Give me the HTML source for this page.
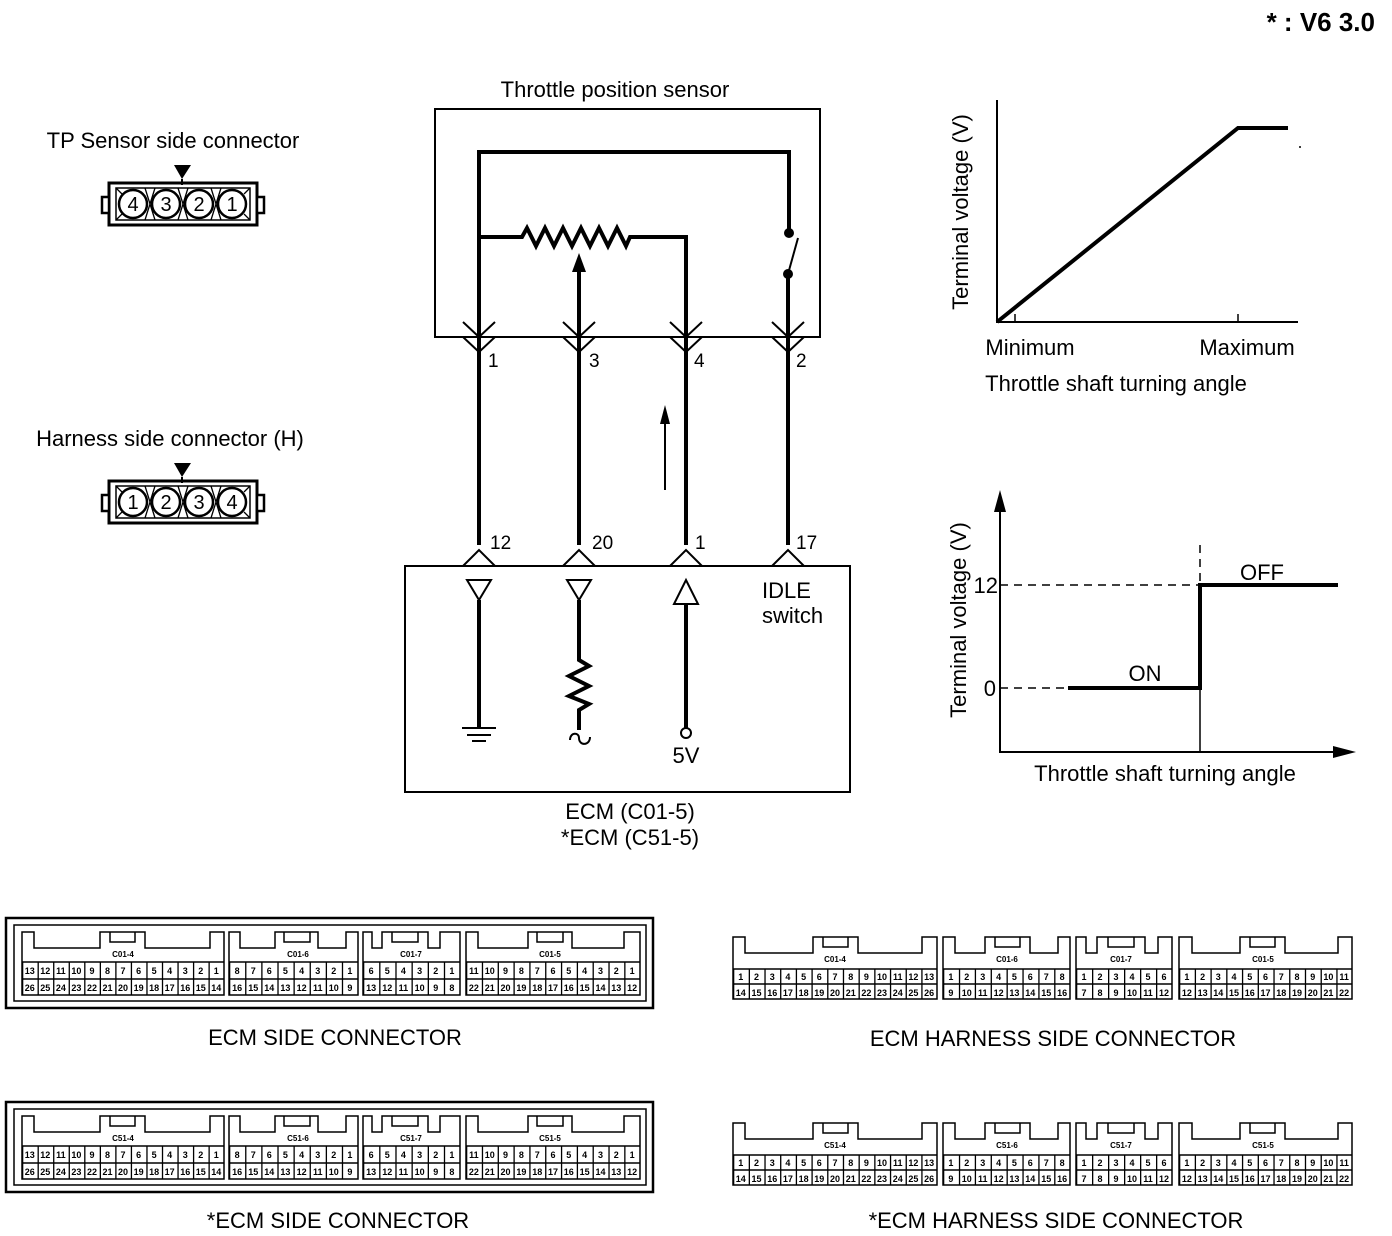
<!DOCTYPE html>
<html><head><meta charset="utf-8"><style>
html,body{margin:0;padding:0;background:#fff}
svg{display:block}
text{font-family:"Liberation Sans",sans-serif;fill:#000}
.t{font-size:22px}
.p{font-size:9px;font-weight:bold;text-anchor:middle}
.l{font-size:8px;font-weight:bold;text-anchor:middle}
</style></head><body>
<svg width="1392" height="1236" viewBox="0 0 1392 1236" xmlns="http://www.w3.org/2000/svg">
<text x="1375" y="31" font-size="26" font-weight="bold" text-anchor="end">* : V6 3.0</text>

<!-- TP sensor side connector -->
<text class="t" x="173" y="148" text-anchor="middle">TP Sensor side connector</text>
<g>
<path d="M174,165 H191 L182,179 Z" fill="#000"/>
<line x1="182" y1="179" x2="182" y2="185" stroke="#000" stroke-width="2"/>
<rect x="109" y="183" width="148" height="42" fill="none" stroke="#000" stroke-width="3"/>
<rect x="116" y="188" width="134" height="32" fill="none" stroke="#000" stroke-width="1.5"/>
<rect x="102" y="197" width="7" height="16" fill="#fff" stroke="#000" stroke-width="2.5"/>
<rect x="257" y="197" width="7" height="16" fill="#fff" stroke="#000" stroke-width="2.5"/>
<path d="M116,188 L122,194 M116,220 L122,214 M250,188 L244,194 M250,220 L244,214 M145,188 L155,220 M155,188 L145,220 M178,188 L188,220 M188,188 L178,220 M211,188 L221,220 M221,188 L211,220" stroke="#000" stroke-width="1.3"/>
<g fill="#fff" stroke="#000" stroke-width="2.5"><circle cx="133" cy="204" r="14"/><circle cx="166" cy="204" r="14"/><circle cx="199" cy="204" r="14"/><circle cx="232" cy="204" r="14"/></g>
<g font-size="20" text-anchor="middle"><text x="133" y="211">4</text><text x="166" y="211">3</text><text x="199" y="211">2</text><text x="232" y="211">1</text></g>
</g>
<text class="t" x="170" y="446" text-anchor="middle">Harness side connector (H)</text>
<g transform="translate(0,298)">
<path d="M174,165 H191 L182,179 Z" fill="#000"/>
<line x1="182" y1="179" x2="182" y2="185" stroke="#000" stroke-width="2"/>
<rect x="109" y="183" width="148" height="42" fill="none" stroke="#000" stroke-width="3"/>
<rect x="116" y="188" width="134" height="32" fill="none" stroke="#000" stroke-width="1.5"/>
<rect x="102" y="197" width="7" height="16" fill="#fff" stroke="#000" stroke-width="2.5"/>
<rect x="257" y="197" width="7" height="16" fill="#fff" stroke="#000" stroke-width="2.5"/>
<path d="M116,188 L122,194 M116,220 L122,214 M250,188 L244,194 M250,220 L244,214 M145,188 L155,220 M155,188 L145,220 M178,188 L188,220 M188,188 L178,220 M211,188 L221,220 M221,188 L211,220" stroke="#000" stroke-width="1.3"/>
<g fill="#fff" stroke="#000" stroke-width="2.5"><circle cx="133" cy="204" r="14"/><circle cx="166" cy="204" r="14"/><circle cx="199" cy="204" r="14"/><circle cx="232" cy="204" r="14"/></g>
<g font-size="20" text-anchor="middle"><text x="133" y="211">1</text><text x="166" y="211">2</text><text x="199" y="211">3</text><text x="232" y="211">4</text></g>
</g>

<!-- Throttle position sensor -->
<text class="t" x="615" y="97" text-anchor="middle">Throttle position sensor</text>
<rect x="435" y="109" width="385" height="228" fill="none" stroke="#000" stroke-width="2"/>
<g stroke="#000" stroke-width="4" fill="none">
<path d="M479,337 V152 H789 V232"/>
<path d="M479,237 H522 L527,228 L536,246 L545,228 L554,246 L563,228 L572,246 L581,228 L590,246 L599,228 L608,246 L617,228 L626,246 L630,237 H686 V337"/>
<path d="M788,273 V337"/>
<path d="M579,337 V270"/>
<path d="M479,337 V545 M579,337 V545 M686,337 V545 M788,337 V545"/>
</g>
<path d="M572,272 L579,253 L586,272 Z" fill="#000"/>
<circle cx="789" cy="233" r="5" fill="#000"/><circle cx="788" cy="274" r="5" fill="#000"/>
<line x1="788" y1="274" x2="798" y2="238" stroke="#000" stroke-width="2"/>
<g stroke="#000" stroke-width="2" fill="none">
<path d="M463,322 L479,337 L495,322 M563,322 L579,337 L595,322 M670,322 L686,337 L702,322 M772,322 L788,337 L804,322"/>
<path d="M463,337 L479,352 L495,337 M563,337 L579,352 L595,337 M670,337 L686,352 L702,337 M772,337 L788,352 L804,337"/>
<path d="M463,566 L479,550 L495,566 M563,566 L579,550 L595,566 M670,566 L686,550 L702,566 M772,566 L788,550 L804,566"/>
</g>
<g font-size="19"><text x="488" y="367">1</text><text x="589" y="367">3</text><text x="694" y="367">4</text><text x="796" y="367">2</text>
<text x="490" y="549">12</text><text x="592" y="549">20</text><text x="695" y="549">1</text><text x="796" y="549">17</text></g>
<line x1="665" y1="490" x2="665" y2="422" stroke="#000" stroke-width="2"/>
<path d="M660,424 L665,405 L670,424 Z" fill="#000"/>

<!-- ECM box -->
<rect x="405" y="566" width="445" height="226" fill="none" stroke="#000" stroke-width="2"/>
<g stroke="#000" fill="none">
<path d="M467,580 H491 L479,600 Z M567,580 H591 L579,600 Z M674,604 H698 L686,580 Z" stroke-width="2"/>
<path d="M479,600 V728 M579,600 V660 L589,666 L569,676 L589,686 L569,696 L589,704 L579,710 V730 M686,604 V728" stroke-width="4"/>
<path d="M462,728 H496 M467,735 H491 M472,741 H486" stroke-width="2"/>
<path d="M570,740 C570,732 579,732 579,738 C579,746 590,746 590,737" stroke-width="2"/>
<circle cx="686" cy="733" r="5" stroke-width="2"/>
</g>
<text class="t" x="762" y="598">IDLE</text>
<text class="t" x="762" y="623">switch</text>
<text class="t" x="686" y="763" text-anchor="middle">5V</text>
<text class="t" x="630" y="819" text-anchor="middle">ECM (C01-5)</text>
<text class="t" x="630" y="845" text-anchor="middle">*ECM (C51-5)</text>

<!-- Graph 1 -->
<g stroke="#000" fill="none">
<path d="M997,100 V322 H1298" stroke-width="2"/>
<path d="M997,322 L1238,128 H1288" stroke-width="4"/>
<path d="M1015,314 V322 M1238,314 V322" stroke-width="1.5"/>
</g>
<circle cx="1300" cy="147" r="1" fill="#000"/>
<text class="t" transform="translate(968,212) rotate(-90)" text-anchor="middle">Terminal voltage (V)</text>
<text class="t" x="1030" y="355" text-anchor="middle">Minimum</text>
<text class="t" x="1247" y="355" text-anchor="middle">Maximum</text>
<text class="t" x="1116" y="391" text-anchor="middle">Throttle shaft turning angle</text>

<!-- Graph 2 -->
<g stroke="#000" fill="none">
<path d="M1000,505 V752 H1340" stroke-width="2"/>
<path d="M1000,585 H1200 M1000,688 H1068 M1200,545 V585" stroke-width="1.5" stroke-dasharray="8 6"/>
<path d="M1068,688 H1200 V585 H1338" stroke-width="4"/>
<line x1="1200" y1="688" x2="1200" y2="752" stroke-width="1.5"/>
</g>
<path d="M994,512 L1000,490 L1006,512 Z M1333,746 L1356,752 L1333,758 Z" fill="#000"/>
<text class="t" x="998" y="593" text-anchor="end">12</text>
<text class="t" x="996" y="696" text-anchor="end">0</text>
<text class="t" x="1145" y="681" text-anchor="middle">ON</text>
<text class="t" x="1262" y="580" text-anchor="middle">OFF</text>
<text class="t" transform="translate(966,620) rotate(-90)" text-anchor="middle">Terminal voltage (V)</text>
<text class="t" x="1165" y="781" text-anchor="middle">Throttle shaft turning angle</text>

<!-- ECM SIDE CONNECTOR set 1 -->
<g>
<rect x="6" y="918" width="647" height="90" fill="none" stroke="#000" stroke-width="2.5"/>
<rect x="14" y="925" width="632" height="76" fill="none" stroke="#000" stroke-width="1.5"/>
<g stroke="#000" stroke-width="1.5" fill="none">
<path d="M22,995 V932 H34 V948 H100 V932 H145 V948 H210 V932 H224 V995 Z"/>
<path d="M229,995 V932 H240 V948 H275 V932 H318 V948 H346 V932 H358 V995 Z"/>
<path d="M363,995 V932 H372 V948 H382 V932 H428 V948 H440 V932 H460 V995 Z"/>
<path d="M466,995 V932 H478 V948 H528 V932 H572 V948 H624 V932 H640 V995 Z"/>
<path d="M110,932 V942 H135 V932 M284,932 V942 H310 V932 M392,932 V942 H418 V932 M537,932 V942 H563 V932"/>
<path d="M22,962 H224 M22,979 H224 M229,962 H358 M229,979 H358 M363,962 H460 M363,979 H460 M466,962 H640 M466,979 H640"/>
</g>
<g stroke="#000" stroke-width="33"><line x1="22" y1="979" x2="224" y2="979" stroke-dasharray="1.3 14.24"/><line x1="229" y1="979" x2="358" y2="979" stroke-dasharray="1.3 14.82"/><line x1="363" y1="979" x2="460" y2="979" stroke-dasharray="1.3 14.87"/><line x1="466" y1="979" x2="640" y2="979" stroke-dasharray="1.3 14.52"/></g>
<text class="l" x="123" y="957">C01-4</text><text class="l" x="298" y="957">C01-6</text><text class="l" x="411" y="957">C01-7</text><text class="l" x="550" y="957">C01-5</text>
<text class="p" y="974"><tspan x="29.8">13</tspan><tspan x="45.3">12</tspan><tspan x="60.9">11</tspan><tspan x="76.4">10</tspan><tspan x="92">9</tspan><tspan x="107.5">8</tspan><tspan x="123">7</tspan><tspan x="138.6">6</tspan><tspan x="154.1">5</tspan><tspan x="169.6">4</tspan><tspan x="185.2">3</tspan><tspan x="200.7">2</tspan><tspan x="216.2">1</tspan><tspan x="237.1">8</tspan><tspan x="253.2">7</tspan><tspan x="269.3">6</tspan><tspan x="285.4">5</tspan><tspan x="301.6">4</tspan><tspan x="317.7">3</tspan><tspan x="333.8">2</tspan><tspan x="349.9">1</tspan><tspan x="371.1">6</tspan><tspan x="387.3">5</tspan><tspan x="403.4">4</tspan><tspan x="419.6">3</tspan><tspan x="435.8">2</tspan><tspan x="451.9">1</tspan><tspan x="473.9">11</tspan><tspan x="489.7">10</tspan><tspan x="505.5">9</tspan><tspan x="521.4">8</tspan><tspan x="537.2">7</tspan><tspan x="553">6</tspan><tspan x="568.8">5</tspan><tspan x="584.6">4</tspan><tspan x="600.5">3</tspan><tspan x="616.3">2</tspan><tspan x="632.1">1</tspan></text>
<text class="p" y="991"><tspan x="29.8">26</tspan><tspan x="45.3">25</tspan><tspan x="60.9">24</tspan><tspan x="76.4">23</tspan><tspan x="92">22</tspan><tspan x="107.5">21</tspan><tspan x="123">20</tspan><tspan x="138.6">19</tspan><tspan x="154.1">18</tspan><tspan x="169.6">17</tspan><tspan x="185.2">16</tspan><tspan x="200.7">15</tspan><tspan x="216.2">14</tspan><tspan x="237.1">16</tspan><tspan x="253.2">15</tspan><tspan x="269.3">14</tspan><tspan x="285.4">13</tspan><tspan x="301.6">12</tspan><tspan x="317.7">11</tspan><tspan x="333.8">10</tspan><tspan x="349.9">9</tspan><tspan x="371.1">13</tspan><tspan x="387.3">12</tspan><tspan x="403.4">11</tspan><tspan x="419.6">10</tspan><tspan x="435.8">9</tspan><tspan x="451.9">8</tspan><tspan x="473.9">22</tspan><tspan x="489.7">21</tspan><tspan x="505.5">20</tspan><tspan x="521.4">19</tspan><tspan x="537.2">18</tspan><tspan x="553">17</tspan><tspan x="568.8">16</tspan><tspan x="584.6">15</tspan><tspan x="600.5">14</tspan><tspan x="616.3">13</tspan><tspan x="632.1">12</tspan></text>
</g>
<text class="t" x="335" y="1045" text-anchor="middle">ECM SIDE CONNECTOR</text>

<!-- ECM SIDE set 2 -->
<g transform="translate(0,184)">
<rect x="6" y="918" width="647" height="90" fill="none" stroke="#000" stroke-width="2.5"/>
<rect x="14" y="925" width="632" height="76" fill="none" stroke="#000" stroke-width="1.5"/>
<g stroke="#000" stroke-width="1.5" fill="none">
<path d="M22,995 V932 H34 V948 H100 V932 H145 V948 H210 V932 H224 V995 Z"/>
<path d="M229,995 V932 H240 V948 H275 V932 H318 V948 H346 V932 H358 V995 Z"/>
<path d="M363,995 V932 H372 V948 H382 V932 H428 V948 H440 V932 H460 V995 Z"/>
<path d="M466,995 V932 H478 V948 H528 V932 H572 V948 H624 V932 H640 V995 Z"/>
<path d="M110,932 V942 H135 V932 M284,932 V942 H310 V932 M392,932 V942 H418 V932 M537,932 V942 H563 V932"/>
<path d="M22,962 H224 M22,979 H224 M229,962 H358 M229,979 H358 M363,962 H460 M363,979 H460 M466,962 H640 M466,979 H640"/>
</g>
<g stroke="#000" stroke-width="33"><line x1="22" y1="979" x2="224" y2="979" stroke-dasharray="1.3 14.24"/><line x1="229" y1="979" x2="358" y2="979" stroke-dasharray="1.3 14.82"/><line x1="363" y1="979" x2="460" y2="979" stroke-dasharray="1.3 14.87"/><line x1="466" y1="979" x2="640" y2="979" stroke-dasharray="1.3 14.52"/></g>
<text class="l" x="123" y="957">C51-4</text><text class="l" x="298" y="957">C51-6</text><text class="l" x="411" y="957">C51-7</text><text class="l" x="550" y="957">C51-5</text>
<text class="p" y="974"><tspan x="29.8">13</tspan><tspan x="45.3">12</tspan><tspan x="60.9">11</tspan><tspan x="76.4">10</tspan><tspan x="92">9</tspan><tspan x="107.5">8</tspan><tspan x="123">7</tspan><tspan x="138.6">6</tspan><tspan x="154.1">5</tspan><tspan x="169.6">4</tspan><tspan x="185.2">3</tspan><tspan x="200.7">2</tspan><tspan x="216.2">1</tspan><tspan x="237.1">8</tspan><tspan x="253.2">7</tspan><tspan x="269.3">6</tspan><tspan x="285.4">5</tspan><tspan x="301.6">4</tspan><tspan x="317.7">3</tspan><tspan x="333.8">2</tspan><tspan x="349.9">1</tspan><tspan x="371.1">6</tspan><tspan x="387.3">5</tspan><tspan x="403.4">4</tspan><tspan x="419.6">3</tspan><tspan x="435.8">2</tspan><tspan x="451.9">1</tspan><tspan x="473.9">11</tspan><tspan x="489.7">10</tspan><tspan x="505.5">9</tspan><tspan x="521.4">8</tspan><tspan x="537.2">7</tspan><tspan x="553">6</tspan><tspan x="568.8">5</tspan><tspan x="584.6">4</tspan><tspan x="600.5">3</tspan><tspan x="616.3">2</tspan><tspan x="632.1">1</tspan></text>
<text class="p" y="991"><tspan x="29.8">26</tspan><tspan x="45.3">25</tspan><tspan x="60.9">24</tspan><tspan x="76.4">23</tspan><tspan x="92">22</tspan><tspan x="107.5">21</tspan><tspan x="123">20</tspan><tspan x="138.6">19</tspan><tspan x="154.1">18</tspan><tspan x="169.6">17</tspan><tspan x="185.2">16</tspan><tspan x="200.7">15</tspan><tspan x="216.2">14</tspan><tspan x="237.1">16</tspan><tspan x="253.2">15</tspan><tspan x="269.3">14</tspan><tspan x="285.4">13</tspan><tspan x="301.6">12</tspan><tspan x="317.7">11</tspan><tspan x="333.8">10</tspan><tspan x="349.9">9</tspan><tspan x="371.1">13</tspan><tspan x="387.3">12</tspan><tspan x="403.4">11</tspan><tspan x="419.6">10</tspan><tspan x="435.8">9</tspan><tspan x="451.9">8</tspan><tspan x="473.9">22</tspan><tspan x="489.7">21</tspan><tspan x="505.5">20</tspan><tspan x="521.4">19</tspan><tspan x="537.2">18</tspan><tspan x="553">17</tspan><tspan x="568.8">16</tspan><tspan x="584.6">15</tspan><tspan x="600.5">14</tspan><tspan x="616.3">13</tspan><tspan x="632.1">12</tspan></text>
</g>
<text class="t" x="338" y="1228" text-anchor="middle">*ECM SIDE CONNECTOR</text>

<!-- ECM HARNESS SIDE set 1 -->
<g>
<g stroke="#000" stroke-width="1.5" fill="none">
<path d="M733,999 V937 H745 V953 H813 V937 H858 V953 H922 V937 H937 V999 Z"/>
<path d="M943,999 V937 H955 V953 H985 V937 H1030 V953 H1058 V937 H1070 V999 Z"/>
<path d="M1076,999 V937 H1086 V953 H1097 V937 H1145 V953 H1158 V937 H1172 V999 Z"/>
<path d="M1179,999 V937 H1192 V953 H1240 V937 H1285 V953 H1338 V937 H1352 V999 Z"/>
<path d="M823,937 V947 H848 V937 M995,937 V947 H1020 V937 M1108,937 V947 H1134 V937 M1250,937 V947 H1275 V937"/>
<path d="M733,969 H937 M733,984 H937 M943,969 H1070 M943,984 H1070 M1076,969 H1172 M1076,984 H1172 M1179,969 H1352 M1179,984 H1352"/>
</g>
<g stroke="#000" stroke-width="30"><line x1="733" y1="984" x2="937" y2="984" stroke-dasharray="1.3 14.39"/><line x1="943" y1="984" x2="1070" y2="984" stroke-dasharray="1.3 14.58"/><line x1="1076" y1="984" x2="1172" y2="984" stroke-dasharray="1.3 14.7"/><line x1="1179" y1="984" x2="1352" y2="984" stroke-dasharray="1.3 14.43"/></g>
<text class="l" x="835" y="962">C01-4</text><text class="l" x="1007" y="962">C01-6</text><text class="l" x="1121" y="962">C01-7</text><text class="l" x="1263" y="962">C01-5</text>
<text class="p" y="980"><tspan x="740.8">1</tspan><tspan x="756.5">2</tspan><tspan x="772.2">3</tspan><tspan x="787.9">4</tspan><tspan x="803.6">5</tspan><tspan x="819.3">6</tspan><tspan x="835">7</tspan><tspan x="850.7">8</tspan><tspan x="866.4">9</tspan><tspan x="882">10</tspan><tspan x="897.7">11</tspan><tspan x="913.4">12</tspan><tspan x="929.1">13</tspan><tspan x="950.9">1</tspan><tspan x="966.8">2</tspan><tspan x="982.7">3</tspan><tspan x="998.6">4</tspan><tspan x="1014.4">5</tspan><tspan x="1030.3">6</tspan><tspan x="1046.2">7</tspan><tspan x="1062.1">8</tspan><tspan x="1084">1</tspan><tspan x="1100">2</tspan><tspan x="1116">3</tspan><tspan x="1132">4</tspan><tspan x="1148">5</tspan><tspan x="1164">6</tspan><tspan x="1186.9">1</tspan><tspan x="1202.6">2</tspan><tspan x="1218.3">3</tspan><tspan x="1234">4</tspan><tspan x="1249.8">5</tspan><tspan x="1265.5">6</tspan><tspan x="1281.2">7</tspan><tspan x="1297">8</tspan><tspan x="1312.7">9</tspan><tspan x="1328.4">10</tspan><tspan x="1344.1">11</tspan></text>
<text class="p" y="996"><tspan x="740.8">14</tspan><tspan x="756.5">15</tspan><tspan x="772.2">16</tspan><tspan x="787.9">17</tspan><tspan x="803.6">18</tspan><tspan x="819.3">19</tspan><tspan x="835">20</tspan><tspan x="850.7">21</tspan><tspan x="866.4">22</tspan><tspan x="882">23</tspan><tspan x="897.7">24</tspan><tspan x="913.4">25</tspan><tspan x="929.1">26</tspan><tspan x="950.9">9</tspan><tspan x="966.8">10</tspan><tspan x="982.7">11</tspan><tspan x="998.6">12</tspan><tspan x="1014.4">13</tspan><tspan x="1030.3">14</tspan><tspan x="1046.2">15</tspan><tspan x="1062.1">16</tspan><tspan x="1084">7</tspan><tspan x="1100">8</tspan><tspan x="1116">9</tspan><tspan x="1132">10</tspan><tspan x="1148">11</tspan><tspan x="1164">12</tspan><tspan x="1186.9">12</tspan><tspan x="1202.6">13</tspan><tspan x="1218.3">14</tspan><tspan x="1234">15</tspan><tspan x="1249.8">16</tspan><tspan x="1265.5">17</tspan><tspan x="1281.2">18</tspan><tspan x="1297">19</tspan><tspan x="1312.7">20</tspan><tspan x="1328.4">21</tspan><tspan x="1344.1">22</tspan></text>
</g>
<text class="t" x="1053" y="1046" text-anchor="middle">ECM HARNESS SIDE CONNECTOR</text>

<!-- ECM HARNESS SIDE set 2 -->
<g transform="translate(0,186)">
<g stroke="#000" stroke-width="1.5" fill="none">
<path d="M733,999 V937 H745 V953 H813 V937 H858 V953 H922 V937 H937 V999 Z"/>
<path d="M943,999 V937 H955 V953 H985 V937 H1030 V953 H1058 V937 H1070 V999 Z"/>
<path d="M1076,999 V937 H1086 V953 H1097 V937 H1145 V953 H1158 V937 H1172 V999 Z"/>
<path d="M1179,999 V937 H1192 V953 H1240 V937 H1285 V953 H1338 V937 H1352 V999 Z"/>
<path d="M823,937 V947 H848 V937 M995,937 V947 H1020 V937 M1108,937 V947 H1134 V937 M1250,937 V947 H1275 V937"/>
<path d="M733,969 H937 M733,984 H937 M943,969 H1070 M943,984 H1070 M1076,969 H1172 M1076,984 H1172 M1179,969 H1352 M1179,984 H1352"/>
</g>
<g stroke="#000" stroke-width="30"><line x1="733" y1="984" x2="937" y2="984" stroke-dasharray="1.3 14.39"/><line x1="943" y1="984" x2="1070" y2="984" stroke-dasharray="1.3 14.58"/><line x1="1076" y1="984" x2="1172" y2="984" stroke-dasharray="1.3 14.7"/><line x1="1179" y1="984" x2="1352" y2="984" stroke-dasharray="1.3 14.43"/></g>
<text class="l" x="835" y="962">C51-4</text><text class="l" x="1007" y="962">C51-6</text><text class="l" x="1121" y="962">C51-7</text><text class="l" x="1263" y="962">C51-5</text>
<text class="p" y="980"><tspan x="740.8">1</tspan><tspan x="756.5">2</tspan><tspan x="772.2">3</tspan><tspan x="787.9">4</tspan><tspan x="803.6">5</tspan><tspan x="819.3">6</tspan><tspan x="835">7</tspan><tspan x="850.7">8</tspan><tspan x="866.4">9</tspan><tspan x="882">10</tspan><tspan x="897.7">11</tspan><tspan x="913.4">12</tspan><tspan x="929.1">13</tspan><tspan x="950.9">1</tspan><tspan x="966.8">2</tspan><tspan x="982.7">3</tspan><tspan x="998.6">4</tspan><tspan x="1014.4">5</tspan><tspan x="1030.3">6</tspan><tspan x="1046.2">7</tspan><tspan x="1062.1">8</tspan><tspan x="1084">1</tspan><tspan x="1100">2</tspan><tspan x="1116">3</tspan><tspan x="1132">4</tspan><tspan x="1148">5</tspan><tspan x="1164">6</tspan><tspan x="1186.9">1</tspan><tspan x="1202.6">2</tspan><tspan x="1218.3">3</tspan><tspan x="1234">4</tspan><tspan x="1249.8">5</tspan><tspan x="1265.5">6</tspan><tspan x="1281.2">7</tspan><tspan x="1297">8</tspan><tspan x="1312.7">9</tspan><tspan x="1328.4">10</tspan><tspan x="1344.1">11</tspan></text>
<text class="p" y="996"><tspan x="740.8">14</tspan><tspan x="756.5">15</tspan><tspan x="772.2">16</tspan><tspan x="787.9">17</tspan><tspan x="803.6">18</tspan><tspan x="819.3">19</tspan><tspan x="835">20</tspan><tspan x="850.7">21</tspan><tspan x="866.4">22</tspan><tspan x="882">23</tspan><tspan x="897.7">24</tspan><tspan x="913.4">25</tspan><tspan x="929.1">26</tspan><tspan x="950.9">9</tspan><tspan x="966.8">10</tspan><tspan x="982.7">11</tspan><tspan x="998.6">12</tspan><tspan x="1014.4">13</tspan><tspan x="1030.3">14</tspan><tspan x="1046.2">15</tspan><tspan x="1062.1">16</tspan><tspan x="1084">7</tspan><tspan x="1100">8</tspan><tspan x="1116">9</tspan><tspan x="1132">10</tspan><tspan x="1148">11</tspan><tspan x="1164">12</tspan><tspan x="1186.9">12</tspan><tspan x="1202.6">13</tspan><tspan x="1218.3">14</tspan><tspan x="1234">15</tspan><tspan x="1249.8">16</tspan><tspan x="1265.5">17</tspan><tspan x="1281.2">18</tspan><tspan x="1297">19</tspan><tspan x="1312.7">20</tspan><tspan x="1328.4">21</tspan><tspan x="1344.1">22</tspan></text>
</g>
<text class="t" x="1056" y="1228" text-anchor="middle">*ECM HARNESS SIDE CONNECTOR</text>
</svg>
</body></html>
